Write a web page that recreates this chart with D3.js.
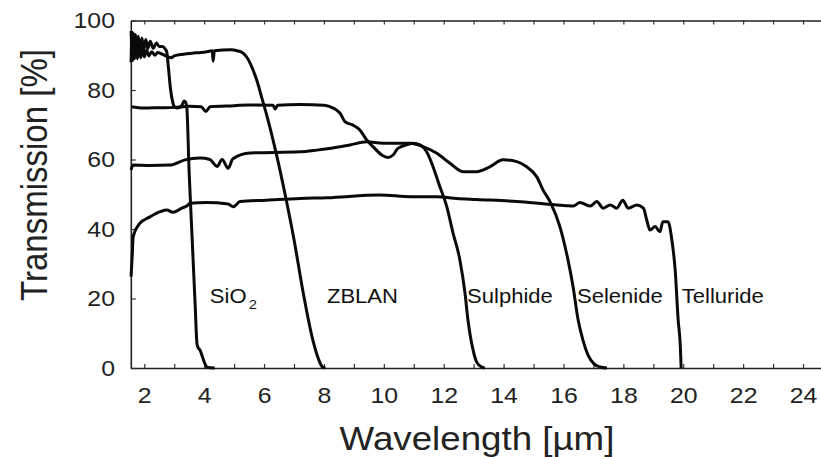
<!DOCTYPE html>
<html>
<head>
<meta charset="utf-8">
<script src="https://cdn.jsdelivr.net/npm/d3@7"></script>
<style>
  body { margin: 0; background: #fff; }
  svg { display: block; }
</style>
</head>
<body>
<svg class="transmission"></svg>
<script>
// wavelength [µm], transmission [%]
const sio2 = [[1.56,97],[1.59,91],[1.62,96.5],[1.66,90.5],[1.7,96],[1.75,91],[1.8,95.5],[1.86,91],[1.92,95],[1.98,91.5],
  [2.05,94.5],[2.12,92],[2.2,94],[2.3,92],[2.4,93.5],[2.5,92.5],[2.6,92.5],[2.7,91.8],[2.75,91],[2.8,87],[2.88,80],
  [2.95,76.5],[3.0,75.2],[3.1,74.8],[3.25,75.5],[3.33,76.8],[3.38,76.5],[3.42,75],[3.5,56],[3.6,37],[3.7,18],[3.76,7],
  [3.8,5.8],[3.86,5.2],[3.95,3],[4.05,0.8],[4.1,0.2],[4.35,0]];

const zblan = [[1.56,88],[1.58,95],[1.61,88.5],[1.64,94],[1.68,89],[1.72,93],[1.77,89],[1.83,92.5],[1.88,89.3],[1.95,92],
  [2.0,89.5],[2.08,91.5],[2.15,89.8],[2.25,91],[2.35,90],[2.45,90.8],[2.6,90.3],[2.8,89.5],[2.9,89.3],[3.0,89.8],
  [3.3,90.3],[3.6,90.6],[3.9,90.8],[4.2,91.2],[4.27,91.3],[4.3,88.3],[4.34,91.3],[4.6,91.5],[4.9,91.6],[5.1,91.3],
  [5.3,90.6],[5.42,89.5],[5.53,87.8],[5.75,83],[5.95,77],[6.05,74],[6.4,62],[6.75,48],[7.0,37],[7.3,22],[7.63,8],
  [7.8,3],[7.95,0.3],[8.05,0]];

const sulphide = [[1.56,75.2],[2.0,74.8],[2.5,74.9],[3.0,75.0],[3.5,75.3],[3.9,75.2],[4.06,73.8],[4.2,75.2],[5.0,75.5],
  [5.5,75.7],[6.3,75.6],[6.37,74.5],[6.45,75.6],[7.2,75.8],[8.0,75.6],[8.2,75.2],[8.54,73.3],[8.7,70.9],[8.97,69.9],
  [9.2,68.5],[9.43,65.6],[9.64,63.7],[9.93,61.3],[10.14,60.6],[10.31,61.3],[10.47,63.2],[10.76,64.2],[10.97,64.7],
  [11.21,64.2],[11.43,62.2],[11.64,58.0],[11.87,52.2],[12.1,46.5],[12.31,38.9],[12.54,31.1],[12.71,21.6],[12.81,13.8],
  [12.98,5.2],[13.1,1.7],[13.27,0.3],[13.37,0]];

const selenide = [[1.56,57],[1.62,58.4],[2.19,58.3],[2.86,58.4],[3.36,59.9],[3.86,60.4],[4.19,60.0],[4.43,58.0],[4.6,60.0],
  [4.8,57.5],[4.96,60.2],[5.53,61.9],[7.2,62.2],[7.76,62.7],[8.87,64.2],[9.43,65.1],[9.97,64.7],[10.87,64.7],[11.31,63.7],
  [11.77,61.8],[12.21,58.9],[12.64,56.5],[13.1,56.5],[13.54,57.9],[13.98,59.9],[14.44,59.4],[14.77,57.9],[15.11,55.0],
  [15.32,51.2],[15.55,47.9],[15.88,40.7],[16.15,31.1],[16.32,23.4],[16.49,13.8],[16.65,8],[16.82,3.7],[17.02,1.2],
  [17.22,0.3],[17.45,0]];

const telluride = [[1.56,26.3],[1.6,33],[1.63,37.8],[1.85,41.6],[2.19,43.5],[2.53,45],[2.75,45.5],[2.96,44.8],[3.25,46],
  [3.42,46.6],[3.53,47.4],[4.08,47.6],[4.8,47.2],[4.97,46.4],[5.2,47.9],[6.09,48.3],[7.2,48.8],[8.1,49.0],[9.87,49.8],
  [10.9,49.3],[11.77,49.3],[12.44,48.8],[13.1,48.5],[14.44,47.9],[15.4,47.2],[16.1,46.7],[16.32,46.6],[16.55,47.6],
  [16.9,46.6],[17.11,47.9],[17.33,46],[17.56,46.9],[17.78,46],[17.98,48.3],[18.16,46],[18.45,46.9],[18.67,46],
  [18.78,42.6],[18.89,39.7],[19.06,40.7],[19.22,39.2],[19.32,42.1],[19.49,42.1],[19.62,36.8],[19.73,28.2],[19.83,13.8],
  [19.9,6.6],[19.93,0]];

const xTicks = d3.range(2, 25);
const yTicks = [0, 20, 40, 60, 80, 100];
const glassLabels = [
  {name: "SiO", sub: "2", at: 4.19},
  {name: "ZBLAN", at: 8.10},
  {name: "Sulphide", at: 12.78},
  {name: "Selenide", at: 16.45},
  {name: "Telluride", at: 19.95}
];
const labelLevel = 18.7;

document.addEventListener('DOMContentLoaded', function(){
    drawTransmission();
});

function drawTransmission(){
    const width = 821, height = 457;
    const stretch = 1.13;   // the picture's text is a bit wide
    const font = "'Liberation Sans', Arial, Helvetica, sans-serif";

    const svg = d3.select(".transmission")
        .attr("width", width)
        .attr("height", height);

    const x = d3.scaleLinear().domain([1.55, 24.6]).range([130.8, 821]);
    const y = d3.scaleLinear().domain([0, 100]).range([368, 20.5]);

    // frame + ticks (right side of the box falls outside the picture)
    svg.append("g")
        .attr("transform", `translate(0,${y(0)})`)
        .call(d3.axisBottom(x).tickValues(xTicks).tickSizeInner(-4).tickSizeOuter(0).tickPadding(19)
            .tickFormat(d => d % 2 === 0 ? d : ""));

    svg.append("g")
        .attr("transform", `translate(0,${y(100)})`)
        .call(d3.axisTop(x).tickValues(xTicks).tickSizeInner(-4).tickSizeOuter(0).tickFormat(""));

    svg.append("g")
        .attr("transform", `translate(${x.range()[0]},0)`)
        .call(d3.axisLeft(y).tickValues(yTicks).tickSizeInner(-5).tickSizeOuter(0).tickPadding(14));

    svg.selectAll(".domain").attr("stroke", "#222").attr("stroke-width", 1.6);
    svg.selectAll(".tick line").attr("stroke", "#333").attr("stroke-width", 1.2);

    svg.selectAll(".tick text")
        .attr("transform", `scale(${stretch},1)`)
        .style("font-size", "22px")
        .style("font-family", font)
        .style("fill", "#222");

    // curves
    const line = d3.line()
        .x(d => x(d[0]))
        .y(d => y(d[1]))
        .curve(d3.curveMonotoneX);

    [sio2, zblan, sulphide, selenide, telluride].forEach(series => {
        svg.append("path")
            .datum(series)
            .attr("d", line)
            .attr("fill", "none")
            .attr("stroke", "#0a0a0a")
            .attr("stroke-width", 3)
            .attr("stroke-linejoin", "round");
    });

    // glass names
    glassLabels.forEach(l => {
        const t = svg.append("text")
            .attr("transform", `translate(${x(l.at)},${y(labelLevel)}) scale(${stretch},1)`)
            .style("font-size", "19.5px")
            .style("font-family", font)
            .style("fill", "#111")
            .text(l.name);
        if (l.sub) {
            t.append("tspan")
                .attr("dx", 2)
                .attr("dy", 6)
                .style("font-size", "13px")
                .text(l.sub);
        }
    });

    // axis titles
    svg.append("text")
        .attr("transform", `translate(477,450) scale(${stretch},1)`)
        .attr("text-anchor", "middle")
        .style("font-size", "32.5px")
        .style("font-family", font)
        .style("fill", "#222")
        .text("Wavelength [µm]");

    svg.append("text")
        .attr("transform", `translate(47,175) scale(${stretch},1) rotate(-90)`)
        .attr("text-anchor", "middle")
        .style("font-size", "33px")
        .style("font-family", font)
        .style("fill", "#222")
        .text("Transmission [%]");
}
</script>
</body>
</html>
